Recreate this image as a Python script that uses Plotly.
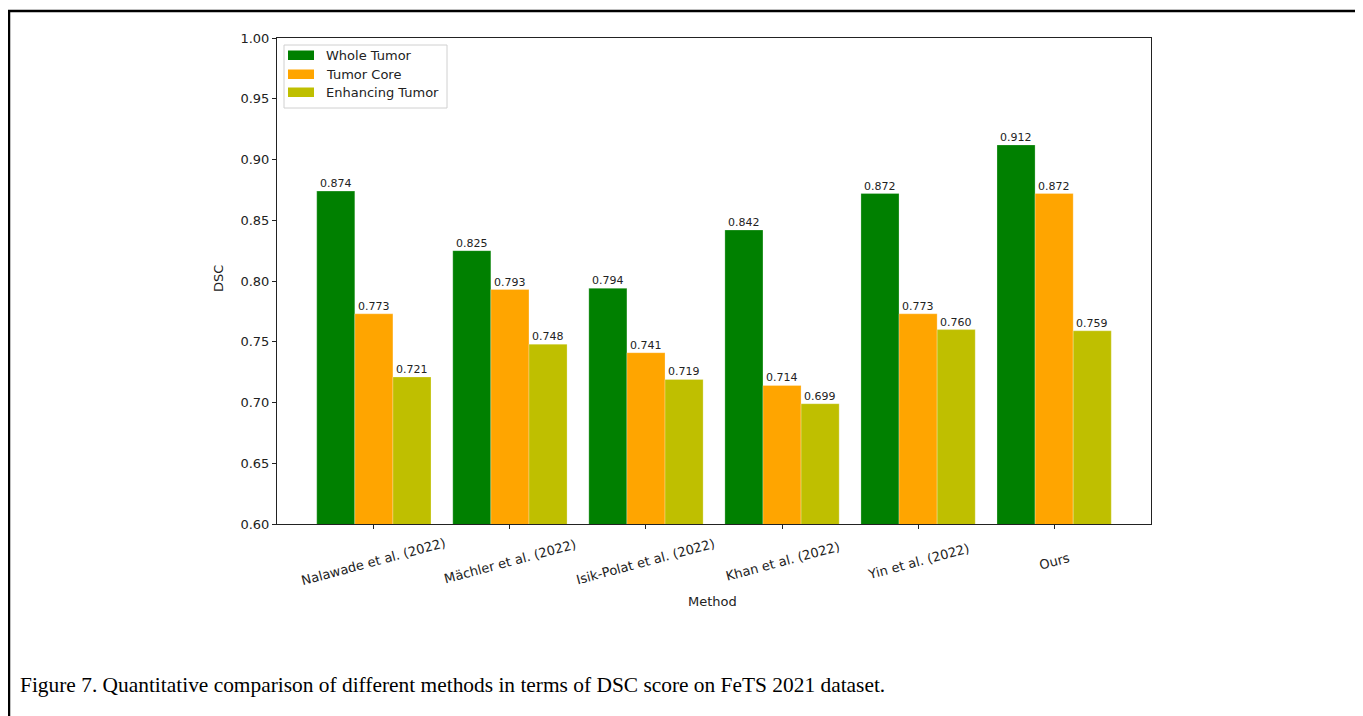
import plotly.graph_objects as go

methods = ["Nalawade et al. (2022)", "Mächler et al. (2022)", "Isik-Polat et al. (2022)",
           "Khan et al. (2022)", "Yin et al. (2022)", "Ours"]
whole_tumor = [0.874, 0.825, 0.794, 0.842, 0.872, 0.912]
tumor_core = [0.773, 0.793, 0.741, 0.714, 0.773, 0.872]
enhancing_tumor = [0.721, 0.748, 0.719, 0.699, 0.760, 0.759]
series_names = ["Whole Tumor", "Tumor Core", "Enhancing Tumor"]
colors = ["#008000", "#FFA500", "#BFBF00"]
y_ticks = [0.60, 0.65, 0.70, 0.75, 0.80, 0.85, 0.90, 0.95, 1.00]
caption = "Figure 7. Quantitative comparison of different methods in terms of DSC score on FeTS 2021 dataset."

# page offset (body margin) compensation
OX, OY = 8, 8
W, H = 1363 - OX, 716 - OY
L, R, T, B = 277 - OX, 1151 - OX, 38 - OY, 524 - OY
BAR_W = 0.28
FONT = "DejaVu Sans"
TXT = "#222"


def px_x(p):
    return (p - OX - L) / (R - L)


def px_y(p):
    return (B - (p - OY)) / (B - T)


fig = go.Figure()
xs = list(range(len(methods)))
all_series = [whole_tumor, tumor_core, enhancing_tumor]
annotations = []
for k, (name, vals, c) in enumerate(zip(series_names, all_series, colors)):
    off = (k - 1) * BAR_W
    fig.add_trace(go.Bar(
        x=[i + off for i in xs], y=vals, name=name, marker_color=c, width=BAR_W,
        marker_line=dict(color="rgba(255,255,255,0.5)", width=0.5),
        showlegend=False,
    ))
    for i, v in zip(xs, vals):
        annotations.append(dict(x=i + off, y=v, xref="x", yref="y", text=f"{v:.3f}",
                                showarrow=False, xanchor="center", yanchor="bottom",
                                yshift=-1, font=dict(family=FONT, size=11, color=TXT)))

# category labels (rotated, centered on ticks)
for i, m in zip(xs, methods):
    annotations.append(dict(x=i, y=px_y(561), xref="x", yref="paper", text=m, textangle=-15,
                            showarrow=False, xanchor="center", yanchor="middle",
                            font=dict(family=FONT, size=13, color=TXT)))
# axis titles
annotations.append(dict(x=px_x(712), y=px_y(601), xref="paper", yref="paper", text="Method",
                        showarrow=False, xanchor="center", yanchor="middle",
                        font=dict(family=FONT, size=13, color=TXT)))
annotations.append(dict(x=px_x(218), y=px_y(279), xref="paper", yref="paper", text="DSC",
                        textangle=-90, showarrow=False, xanchor="center", yanchor="middle",
                        font=dict(family=FONT, size=13, color=TXT)))
# caption
annotations.append(dict(text=caption, xref="paper", yref="paper", x=px_x(18), y=px_y(685),
                        xanchor="left", yanchor="middle", showarrow=False,
                        font=dict(family="Liberation Serif", size=21.4, color="black")))

shapes = [dict(type="rect", xref="paper", yref="paper",
               x0=px_x(9), x1=px_x(1358), y0=px_y(740), y1=px_y(11),
               line=dict(color="black", width=2.5), fillcolor="rgba(0,0,0,0)", layer="below")]

# legend (drawn manually to mimic rectangular patches)
shapes.append(dict(type="rect", xref="paper", yref="paper",
                   x0=px_x(284), x1=px_x(447), y0=px_y(108), y1=px_y(45),
                   line=dict(color="#d0d0d0", width=1), fillcolor="rgba(255,255,255,0.8)"))
row_y = [55, 74, 92]
for name, c, ry in zip(series_names, colors, row_y):
    shapes.append(dict(type="rect", xref="paper", yref="paper",
                       x0=px_x(288), x1=px_x(314), y0=px_y(ry + 5), y1=px_y(ry - 4.5),
                       line=dict(width=0), fillcolor=c))
    annotations.append(dict(x=px_x(324), y=px_y(ry), xref="paper", yref="paper", text=name,
                            showarrow=False, xanchor="left", yanchor="middle",
                            font=dict(family=FONT, size=13, color=TXT)))

fig.update_layout(
    width=W, height=H,
    margin=dict(l=L, r=W - R, t=T, b=H - B, autoexpand=False),
    paper_bgcolor="white", plot_bgcolor="white",
    barmode="overlay",
    font=dict(family=FONT, size=13, color=TXT),
    showlegend=False,
    xaxis=dict(range=[-0.712, 5.712], tickmode="array", tickvals=xs, ticktext=[""] * len(xs),
               ticks="outside", ticklen=4, tickcolor=TXT,
               showline=True, linecolor=TXT, linewidth=1, mirror=True,
               showgrid=False, zeroline=False),
    yaxis=dict(range=[0.6, 1.0], tickmode="array", tickvals=y_ticks,
               ticktext=[f"{v:.2f}" for v in y_ticks],
               ticks="outside", ticklen=4, tickcolor=TXT,
               showline=True, linecolor=TXT, linewidth=1, mirror=True,
               showgrid=False, zeroline=False,
               tickfont=dict(family=FONT, size=13, color=TXT)),
    shapes=shapes,
    annotations=annotations,
)

fig.write_html("out.html")
